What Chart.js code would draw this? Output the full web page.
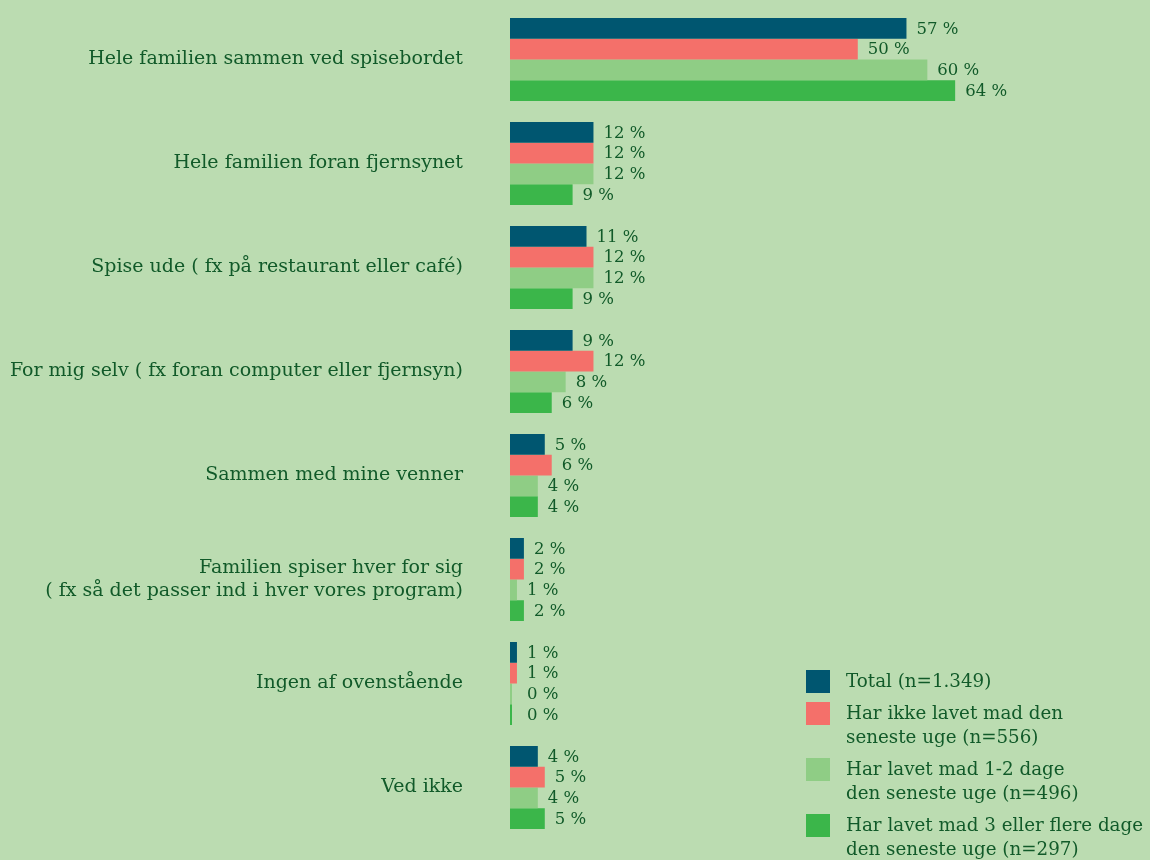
<!DOCTYPE html>
<html>
<head>
<meta charset="utf-8">
<script src="https://cdn.jsdelivr.net/npm/chart.js@4/dist/chart.umd.min.js"></script>
<style>
  html, body { margin: 0; padding: 0; background: #bbdcb1; }
  #wrap { width: 1150px; height: 860px; position: relative; }
</style>
</head>
<body>
<div id="wrap"><canvas id="c" width="1150" height="860"></canvas></div>
<script>
// Hvor spiser du typisk aftensmad? Andel i procent.
const categories = [
  'Hele familien sammen ved spisebordet',
  'Hele familien foran fjernsynet',
  'Spise ude ( fx på restaurant eller café)',
  'For mig selv ( fx foran computer eller fjernsyn)',
  'Sammen med mine venner',
  ['Familien spiser hver for sig', '( fx så det passer ind i hver vores program)'],
  'Ingen af ovenstående',
  'Ved ikke'
];

const seriesNames = [
  ['Total (n=1.349)'],
  ['Har ikke lavet mad den', 'seneste uge (n=556)'],
  ['Har lavet mad 1-2 dage', 'den seneste uge (n=496)'],
  ['Har lavet mad 3 eller flere dage', 'den seneste uge (n=297)']
];

const total       = [57, 12, 11, 9, 5, 2, 1, 4];
const ikkeLavet   = [50, 12, 12, 12, 6, 2, 1, 5];
const lavet12     = [60, 12, 12, 8, 4, 1, 0, 4];
const lavet3plus  = [64, 9, 9, 6, 4, 2, 0, 5];

const colors = ['#005670', '#f4706a', '#8fcd85', '#3bb64a'];
const textColor = '#115a29';
const fontFamily = '"DejaVu Serif", "Liberation Serif", serif';

const seriesValues = [total, ikkeLavet, lavet12, lavet3plus];

// Percentage labels just past the end of each bar
const valueLabels = {
  id: 'valueLabels',
  afterDatasetsDraw(chart) {
    const ctx = chart.ctx;
    ctx.save();
    ctx.font = '16.5px ' + fontFamily;
    ctx.fillStyle = textColor;
    ctx.textAlign = 'left';
    ctx.textBaseline = 'middle';
    chart.data.datasets.forEach((ds, di) => {
      const meta = chart.getDatasetMeta(di);
      meta.data.forEach((bar, i) => {
        const x = Math.max(bar.x + 10, chart.chartArea.left + 17);
        ctx.fillText(ds.data[i] + ' %', x, bar.y + 1);
      });
    });
    ctx.restore();
  }
};

// Legend box in the lower right, with wrapped series names
const sideLegend = {
  id: 'sideLegend',
  afterDraw(chart) {
    const ctx = chart.ctx;
    ctx.save();
    ctx.font = '18.3px ' + fontFamily;
    ctx.textAlign = 'left';
    ctx.textBaseline = 'middle';
    const boxX = 806, textX = 846, lineH = 24, gap = 8, box = 24;
    let y = 670;
    chart.data.datasets.forEach((ds) => {
      ctx.fillStyle = ds.backgroundColor;
      ctx.fillRect(boxX, y, box, box - 1);
      ctx.fillStyle = textColor;
      const lines = ds.label;
      lines.forEach((ln, k) => {
        ctx.fillText(ln, textX, y + 12 + k * lineH);
      });
      y += lines.length * lineH + gap;
    });
    ctx.restore();
  }
};

new Chart(document.getElementById('c'), {
  type: 'bar',
  data: {
    labels: categories,
    datasets: seriesValues.map((vals, i) => ({
      label: seriesNames[i],
      data: vals,
      backgroundColor: colors[i],
      borderWidth: 0,
      categoryPercentage: 0.8,
      barPercentage: 1.0,
      minBarLength: 2
    }))
  },
  options: {
    indexAxis: 'y',
    responsive: false,
    animation: false,
    devicePixelRatio: 1,
    layout: { padding: { top: 7.5, bottom: 20.5, left: 0, right: 14 } },
    plugins: {
      legend: { display: false },
      tooltip: { enabled: false }
    },
    scales: {
      x: {
        display: false,
        min: 0,
        max: 90
      },
      y: {
        afterFit(scale) {
          scale.width = 510;
          scale.paddingTop = 0;
          scale.paddingBottom = 0;
        },
        grid: { display: false, drawTicks: false },
        border: { display: false },
        ticks: {
          padding: 47,
          color: textColor,
          font: { family: fontFamily, size: 19, lineHeight: 1.25 }
        }
      }
    }
  },
  plugins: [valueLabels, sideLegend]
});
</script>
</body>
</html>
